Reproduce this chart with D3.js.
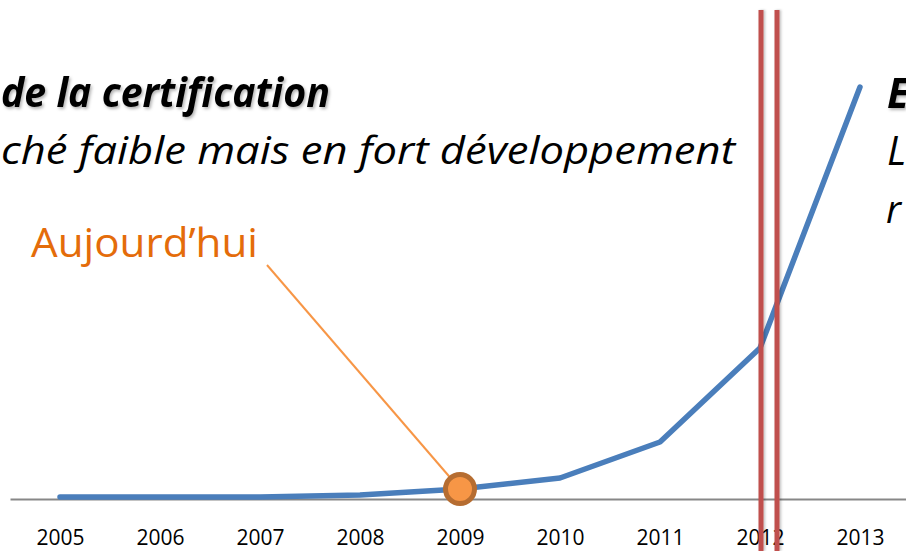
<!DOCTYPE html>
<html>
<head>
<meta charset="utf-8">
<script src="https://cdn.jsdelivr.net/npm/d3@7"></script>
<style>
  html, body { margin: 0; padding: 0; background: #fff; overflow: hidden; }
  svg { display: block; font-family: "Open Sans", sans-serif; }
</style>
</head>
<body>
<div id="chart"></div>
<script>
// data
var years = [2005, 2006, 2007, 2008, 2009, 2010, 2011, 2012, 2013];
var values = [2, 2, 2, 4, 10, 21, 57, 151, 412];
var todayYear = 2009;
var markerOffsets = [0.01, 0.17];   // red double line, in fractions of a year after 2012
var markerYear = 2012;

var width = 906, height = 551;

var svg = d3.select("#chart").append("svg")
    .attr("width", width)
    .attr("height", height);

var defs = svg.append("defs");
defs.append("filter").attr("id", "shadow")
    .attr("x", "-10%").attr("y", "-20%").attr("width", "130%").attr("height", "160%")
  .append("feDropShadow")
    .attr("dx", 1.5).attr("dy", 2).attr("stdDeviation", 1.8)
    .attr("flood-color", "#000").attr("flood-opacity", 0.3);
defs.append("filter").attr("id", "lineShadow")
    .attr("filterUnits", "userSpaceOnUse")
    .attr("x", 0).attr("y", 0).attr("width", width).attr("height", height)
  .append("feDropShadow")
    .attr("dx", 1.5).attr("dy", 0).attr("stdDeviation", 1.2)
    .attr("flood-color", "#000").attr("flood-opacity", 0.25);

var x = d3.scalePoint()
    .domain(years)
    .range([10, 910])
    .padding(0.5);

var y = d3.scaleLinear()
    .domain([0, 412])
    .range([499, 87]);

// axis
var axis = svg.append("g")
    .attr("transform", "translate(0," + y(0) + ")")
    .call(d3.axisBottom(x).tickSize(0).tickPadding(31));
axis.select(".domain").attr("stroke", "#878787").attr("stroke-width", 2);
axis.selectAll("text")
    .attr("fill", "#000")
    .style("font-size", "21px")
    .style("font-family", "'Open Sans', sans-serif");

// series
var pts = years.map(function(d, i) { return [d, values[i]]; });
var line = d3.line()
    .x(function(d) { return x(d[0]); })
    .y(function(d) { return y(d[1]); });

svg.append("path")
    .datum(pts)
    .attr("d", line)
    .attr("fill", "none")
    .attr("stroke", "#4A7EBB")
    .attr("stroke-width", 5.5)
    .attr("stroke-linejoin", "round")
    .attr("stroke-linecap", "round");

// red double line
svg.selectAll(".marker")
  .data(markerOffsets)
  .enter().append("rect")
    .attr("class", "marker")
    .attr("x", function(d) { return x(markerYear) + d * x.step() - 2.5; })
    .attr("y", 10)
    .attr("width", 5)
    .attr("height", height - 10)
    .attr("fill", "#C0504D")
    .attr("filter", "url(#lineShadow)");

// callout "Aujourd'hui"
var ti = years.indexOf(todayYear);
var cx = x(todayYear), cy = y(values[ti]);

svg.append("line")
    .attr("x1", 267).attr("y1", 265)
    .attr("x2", cx).attr("y2", cy)
    .attr("stroke", "#F79646")
    .attr("stroke-width", 2);

svg.append("circle")
    .attr("cx", cx)
    .attr("cy", cy)
    .attr("r", 14.5)
    .attr("fill", "#F79646")
    .attr("stroke", "#B66D31")
    .attr("stroke-width", 5);

svg.append("text")
    .attr("x", 31).attr("y", 257)
    .attr("textLength", 227).attr("lengthAdjust", "spacingAndGlyphs")
    .attr("fill", "#E46C0A")
    .style("font-size", "41px")
    .text("Aujourd\u2019hui");

// phase texts
svg.append("text")
    .attr("x", 1).attr("y", 107)
    .attr("textLength", 329).attr("lengthAdjust", "spacingAndGlyphs")
    .style("font-size", "41px").style("font-weight", "bold").style("font-style", "italic")
    .attr("filter", "url(#shadow)")
    .text("de la certification");

svg.append("text")
    .attr("x", 1).attr("y", 164)
    .attr("textLength", 734).attr("lengthAdjust", "spacingAndGlyphs")
    .style("font-size", "38px").style("font-style", "italic")
    .text("ché faible mais en fort développement");

svg.append("text")
    .attr("x", 887).attr("y", 108)
    .style("font-size", "41px").style("font-weight", "bold").style("font-style", "italic")
    .attr("filter", "url(#shadow)")
    .text("E");

svg.append("text")
    .attr("x", 887).attr("y", 165)
    .style("font-size", "40px").style("font-style", "italic")
    .text("L");

svg.append("text")
    .attr("x", 886).attr("y", 223)
    .style("font-size", "38px").style("font-style", "italic")
    .text("r");
</script>
</body>
</html>
